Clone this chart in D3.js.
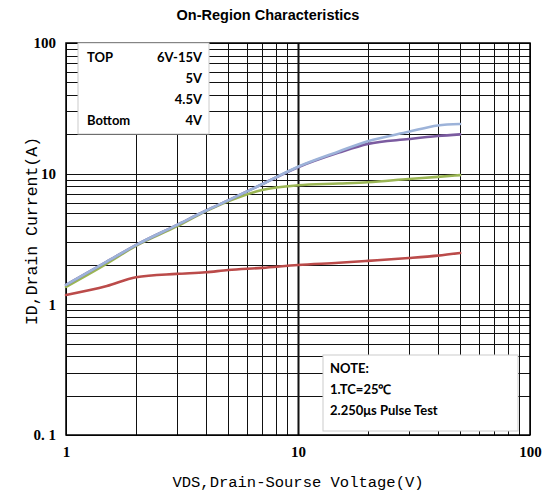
<!DOCTYPE html>
<html>
<head>
<meta charset="utf-8">
<script src="https://cdn.jsdelivr.net/npm/d3@7"></script>
<style>
  body { margin: 0; background: #fff; }
  svg { display: block; }
</style>
</head>
<body>
<svg id="chart" width="542" height="496"></svg>
<script>
// values (VDS in V, ID in A)
const vds = [1, 1.5, 2, 3, 4, 5, 7, 10, 15, 20, 30, 40, 50];
const id6to15 = [1.41, 2.12, 2.84, 4.04, 5.2, 6.25, 8.3, 11.3, 14.8, 17.7, 20.9, 23.4, 24.0];
const id5 = [1.41, 2.12, 2.84, 4.04, 5.2, 6.25, 8.3, 11.2, 14.5, 16.9, 18.4, 19.4, 20.0];
const id45 = [1.36, 2.05, 2.8, 3.95, 5.15, 6.15, 7.5, 8.15, 8.4, 8.6, 9.1, 9.45, 9.75];
const id4 = [1.18, 1.38, 1.61, 1.71, 1.76, 1.83, 1.9, 2.0, 2.08, 2.15, 2.26, 2.36, 2.47];

const seriesNames = ["6V-15V", "5V", "4.5V", "4V"];
const seriesColors = ["#9db3d9", "#7b5ba0", "#9bb654", "#bb4b4a"];
const seriesValues = [id6to15, id5, id45, id4];

const xTickLabels = ["1", "10", "100"];
const yTickLabels = ["0. 1", "1", "10", "100"];

const svg = d3.select("#chart");
const margin = {top: 43, right: 12, bottom: 61, left: 66};
const width = 542 - margin.left - margin.right;
const height = 496 - margin.top - margin.bottom;

const x = d3.scaleLog().domain([1, 100]).range([0, width]);
const y = d3.scaleLog().domain([0.1, 100]).range([height, 0]);

const g = svg.append("g").attr("transform", `translate(${margin.left},${margin.top})`);

// grid
const xGrid = [];
for (let d = 1; d < 100; d *= 10) for (let k = 1; k <= 10; k++) xGrid.push(d * k);
const yGrid = [];
for (let d = 0.1; d < 100; d *= 10) for (let k = 1; k <= 10; k++) yGrid.push(+(d * k).toPrecision(3));

g.append("g").selectAll("line").data(xGrid).join("line")
  .attr("x1", d => Math.round(x(d)) + 0.5).attr("x2", d => Math.round(x(d)) + 0.5)
  .attr("y1", 0).attr("y2", height)
  .attr("stroke", "#111").attr("stroke-width", d => d === 10 ? 1.6 : 1);

g.append("g").selectAll("line").data(yGrid).join("line")
  .attr("y1", d => Math.round(y(d)) + 0.5).attr("y2", d => Math.round(y(d)) + 0.5)
  .attr("x1", 0).attr("x2", width)
  .attr("stroke", "#111").attr("stroke-width", 1);

g.append("rect").attr("width", width).attr("height", height)
  .attr("fill", "none").attr("stroke", "#000").attr("stroke-width", 1.5);

// curves
const line = d3.line()
  .x((d, i) => x(vds[i]))
  .y(d => y(d))
  .curve(d3.curveMonotoneX);

// draw bottom series first so the top one lies over
seriesValues.slice().reverse().forEach((vals, j) => {
  const idx = seriesValues.length - 1 - j;
  g.append("path")
    .attr("d", line(vals))
    .attr("fill", "none")
    .attr("stroke", seriesColors[idx])
    .attr("stroke-width", 2.6)
    .attr("stroke-linecap", "round");
});

// axes labels
const xAxis = d3.axisBottom(x).tickValues([1, 10, 100]).tickSize(0)
  .tickFormat((d, i) => xTickLabels[i]);
const gx = g.append("g").attr("transform", `translate(0,${height})`).call(xAxis);
gx.select(".domain").remove();
gx.selectAll("text").attr("dy", "1.05em").attr("y", 6)
  .style("font-family", "'Liberation Serif', serif").style("font-weight", "bold")
  .style("font-size", "15px").attr("fill", "#000");

const yAxis = d3.axisLeft(y).tickValues([0.1, 1, 10, 100]).tickSize(0)
  .tickFormat((d, i) => yTickLabels[i]);
const gy = g.append("g").call(yAxis);
gy.select(".domain").remove();
gy.selectAll("text").attr("x", -10)
  .style("font-family", "'Liberation Serif', serif").style("font-weight", "bold")
  .style("font-size", "15px").attr("fill", "#000");

// title
svg.append("text").attr("x", 268).attr("y", 20).attr("text-anchor", "middle")
  .style("font-family", "'Liberation Sans', Arial, sans-serif").style("font-weight", "bold")
  .style("font-size", "14.5px").text("On-Region Characteristics");

// axis titles
svg.append("text").attr("x", margin.left + x(10)).attr("y", 487).attr("text-anchor", "middle")
  .style("font-family", "'Liberation Mono', monospace").style("font-size", "15.5px")
  .text("VDS,Drain-Sourse Voltage(V)");

svg.append("text")
  .attr("transform", "translate(37,231) rotate(-90)")
  .attr("text-anchor", "middle")
  .style("font-family", "'Liberation Mono', monospace").style("font-size", "16.5px")
  .text("ID,Drain Current(A)");

// legend box
const leg = g.append("g").attr("transform", "translate(12,0)");
leg.append("rect").attr("width", 131).attr("height", 91)
  .attr("fill", "#fff").attr("stroke", "#ccc").attr("stroke-width", 1);
const legRows = [["TOP", seriesNames[0]], ["", seriesNames[1]], ["", seriesNames[2]], ["Bottom", seriesNames[3]]];
legRows.forEach((r, i) => {
  const yy = 19 + i * 21;
  leg.append("text").attr("x", 9).attr("y", yy).text(r[0])
    .style("font-family", "Lato, 'Open Sans', sans-serif").style("font-weight", "bold").style("font-size", "13px");
  leg.append("text").attr("x", 124).attr("y", yy).attr("text-anchor", "end").text(r[1])
    .style("font-family", "Lato, 'Open Sans', sans-serif").style("font-weight", "bold").style("font-size", "13px");
});

// note box
const noteLines = ["NOTE:", "1.TC=25\u2103", "2.250\u03bcs Pulse Test"];
const note = g.append("g").attr("transform", `translate(${323 - margin.left},${355 - margin.top})`);
note.append("rect").attr("width", 195).attr("height", 76)
  .attr("fill", "#fff").attr("stroke", "#ccc").attr("stroke-width", 1);
noteLines.forEach((t, i) => {
  note.append("text").attr("x", 7).attr("y", 18 + i * 21).text(t)
    .style("font-family", "Lato, 'Open Sans', sans-serif").style("font-weight", "bold").style("font-size", "13px");
});
</script>
</body>
</html>
